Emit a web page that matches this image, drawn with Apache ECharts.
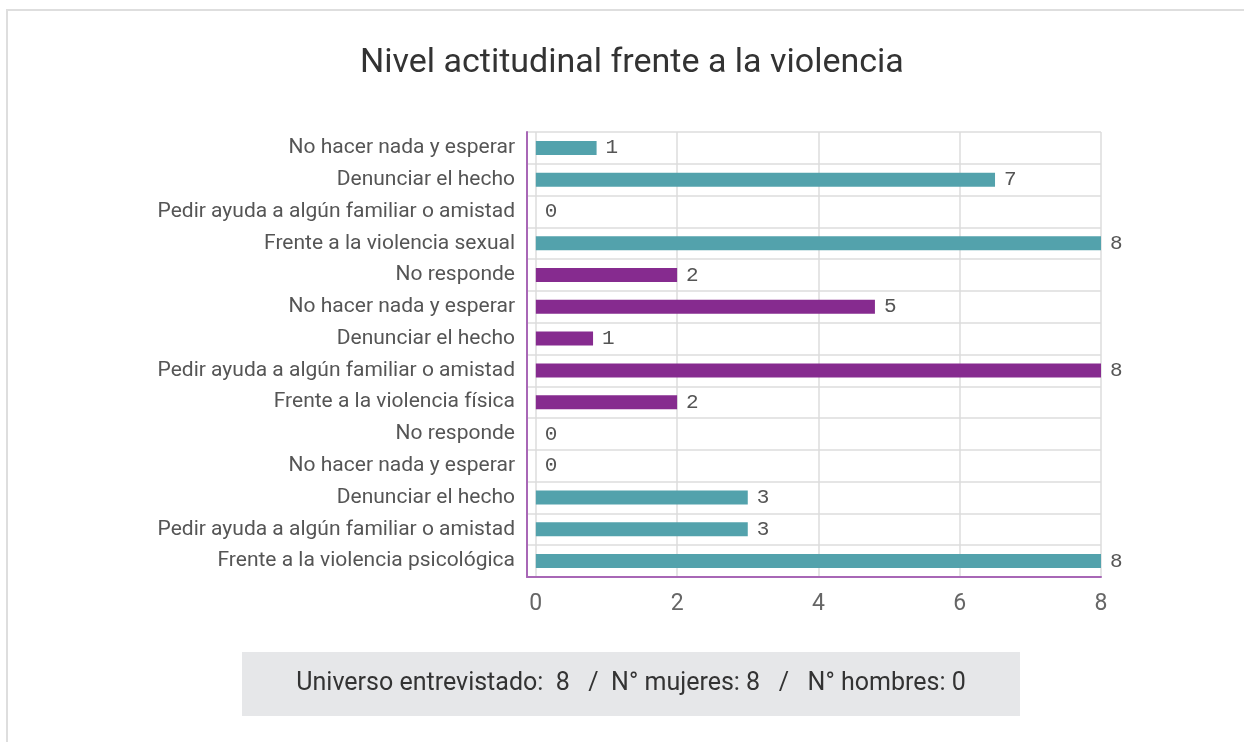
<!DOCTYPE html>
<html>
<head>
<meta charset="utf-8">
<title>Nivel actitudinal frente a la violencia</title>
<script src="https://cdn.jsdelivr.net/npm/echarts@6/dist/echarts.min.js"></script>
<style>
    html, body { margin: 0; padding: 0; background: #fff; }
    #chart { width: 1244px; height: 742px; }
</style>
</head>
<body>
<div id="chart"></div>
<script>
    // categorias de abajo hacia arriba, por grupo
    var psicologicaCats = ['Frente a la violencia psicológica', 'Pedir ayuda a algún familiar o amistad', 'Denunciar el hecho', 'No hacer nada y esperar', 'No responde'];
    var fisicaCats = ['Frente a la violencia física', 'Pedir ayuda a algún familiar o amistad', 'Denunciar el hecho', 'No hacer nada y esperar', 'No responde'];
    var sexualCats = ['Frente a la violencia sexual', 'Pedir ayuda a algún familiar o amistad', 'Denunciar el hecho', 'No hacer nada y esperar'];

    // largo de las barras y etiquetas mostradas
    var psicologicaValues = [8, 3, 3, 0, 0];
    var psicologicaLabels = ['8', '3', '3', '0', '0'];
    var fisicaValues = [2, 8, 0.81, 4.8, 2];
    var fisicaLabels = ['2', '8', '1', '5', '2'];
    var sexualValues = [8, 0, 6.5, 0.86];
    var sexualLabels = ['8', '0', '7', '1'];

    var xTicks = [0, 2, 4, 6, 8];
    var footerText = 'Universo entrevistado:  8   /  N° mujeres: 8   /   N° hombres: 0';

    var TEAL = '#53a2ac';
    var PURPLE = '#862b8f';
    var AXIS = '#a867b6';
    var GRID = '#dcdcdc';

    var categories = psicologicaCats.concat(fisicaCats, sexualCats);

    // arma la serie de un grupo, con '-' en las filas de los otros grupos
    function groupData(values, offset) {
        var out = [];
        for (var i = 0; i < categories.length; i++) {
            var j = i - offset;
            out.push(j >= 0 && j < values.length ? values[j] : '-');
        }
        return out;
    }

    function makeSeries(name, values, labels, offset, color) {
        return {
            name: name,
            type: 'bar',
            stack: 'all',
            barWidth: 14,
            data: groupData(values, offset),
            itemStyle: { color: color },
            label: {
                show: true,
                position: 'right',
                distance: 9,
                color: '#555',
                fontSize: 21,
                fontFamily: 'Liberation Mono',
                formatter: function (p) { return labels[p.dataIndex - offset]; }
            }
        };
    }

    var chart = echarts.init(document.getElementById('chart'));
    var option = {
        animation: false,
        title: {
            text: 'Nivel actitudinal frente a la violencia',
            left: 355,
            top: 41,
            textStyle: { fontFamily: 'Roboto', fontWeight: 'normal', fontSize: 34, color: '#333' }
        },
        grid: { left: 527, right: 143, top: 132, bottom: 165, containLabel: false },
        xAxis: {
            type: 'value',
            min: -0.125,
            max: 8,
            axisLine: { show: true, lineStyle: { color: AXIS, width: 2 } },
            axisTick: { show: false },
            splitLine: { show: true, lineStyle: { color: GRID, width: 1.5 } },
            axisLabel: {
                showMinLabel: false,
                margin: 16,
                fontFamily: 'Roboto',
                fontSize: 23,
                color: '#666',
                formatter: function (v) { return xTicks.indexOf(v) >= 0 ? String(v) : ''; }
            }
        },
        yAxis: {
            type: 'category',
            data: categories,
            axisLine: { show: true, onZero: false, lineStyle: { color: AXIS, width: 2 } },
            axisTick: { show: false },
            splitLine: { show: true, lineStyle: { color: GRID, width: 1.5 } },
            axisLabel: { margin: 12, fontFamily: 'Roboto', fontSize: 21, color: '#555' }
        },
        series: [
            makeSeries('Frente a la violencia psicológica', psicologicaValues, psicologicaLabels, 0, TEAL),
            makeSeries('Frente a la violencia física', fisicaValues, fisicaLabels, psicologicaCats.length, PURPLE),
            makeSeries('Frente a la violencia sexual', sexualValues, sexualLabels, psicologicaCats.length + fisicaCats.length, TEAL)
        ],
        graphic: [
            {
                type: 'rect',
                silent: true,
                shape: { x: 7, y: 10, width: 1400, height: 900 },
                style: { fill: 'none', stroke: '#dedede', lineWidth: 2 }
            },
            {
                type: 'rect',
                silent: true,
                shape: { x: 242, y: 652, width: 778, height: 64 },
                style: { fill: '#e6e7e9' }
            },
            {
                type: 'text',
                silent: true,
                x: 631,
                y: 684,
                style: {
                    text: footerText,
                    fontFamily: 'Roboto',
                    fontSize: 25,
                    fill: '#333',
                    align: 'center',
                    verticalAlign: 'middle'
                }
            }
        ]
    };
    chart.setOption(option);
    window.addEventListener('resize', chart.resize);
</script>
</body>
</html>
